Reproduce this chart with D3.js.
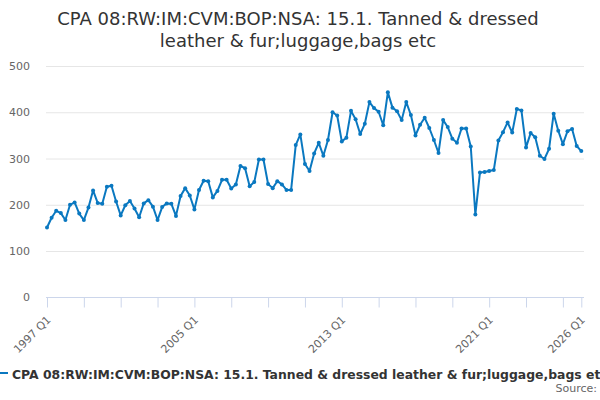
<!DOCTYPE html>
<html><head><meta charset="utf-8">
<script src="https://cdn.jsdelivr.net/npm/d3@7"></script>
<style>
body{margin:0;background:#fff;}
svg{display:block;font-family:"DejaVu Sans",sans-serif;}
</style></head>
<body><svg id="c" width="600" height="400"></svg>
<script>
const titleLines = ["CPA 08:RW:IM:CVM:BOP:NSA: 15.1. Tanned & dressed", "leather & fur;luggage,bags etc"];
const seriesName = "CPA 08:RW:IM:CVM:BOP:NSA: 15.1. Tanned & dressed leather & fur;luggage,bags etc";
const startYear = 1997;
const values = [
151,172,187,182,167,200,205,181,167,194,231,204,202,239,241,207,
177,199,208,192,173,203,210,196,167,195,203,202,176,219,236,220,
190,232,252,251,216,230,254,254,235,244,284,279,240,249,298,298,
245,236,251,244,232,232,329,352,288,273,311,334,306,340,400,393,
337,345,403,385,353,375,422,409,401,372,443,410,402,383,422,394,
350,373,388,366,340,312,383,368,343,334,365,365,326,179,270,271,
273,275,339,357,378,356,407,404,324,355,346,306,299,321,397,360,
331,359,364,327,316
];
const yTicks = [0,100,200,300,400,500];
const labelYears = [1997,2005,2013,2021,2026];
const tickStep = 8;

const categories = values.map((v,i)=> (startYear+Math.floor(i/4))+" Q"+(i%4+1));
const svg = d3.select("#c");
const x = d3.scalePoint().domain(categories).range([47,581.3]);
const y = d3.scaleLinear().domain([0,500]).range([297.3,66]);

// title
svg.append("text").attr("x",298).attr("y",25).attr("text-anchor","middle")
  .attr("font-size",18).attr("fill","#333")
  .selectAll("tspan").data(titleLines).join("tspan")
  .attr("x",298).attr("dy",(d,i)=>i?22:0).text(d=>d);

// grid
svg.append("g").selectAll("line").data(yTicks.filter(d=>d>0)).join("line")
  .attr("x1",46).attr("x2",584).attr("y1",d=>y(d)+0.5).attr("y2",d=>y(d)+0.5)
  .attr("stroke","#e6e6e6").attr("stroke-width",1);

// y labels
svg.append("g").selectAll("text").data(yTicks).join("text")
  .attr("x",30).attr("y",d=>y(d)+4).attr("text-anchor","end")
  .attr("font-size",11).attr("fill","#666").text(d=>d);

// x axis
const lastCat = categories[categories.length-1];
const tickCats = categories.filter((c,i)=> i%tickStep===0 || i===categories.length-1);
const xAxis = d3.axisBottom(x).tickValues(tickCats).tickSizeOuter(0).tickSizeInner(10)
  .tickFormat(c=> (c===lastCat || (c.endsWith("Q1") && (+c.slice(0,4)-startYear)%8===0)) && labelYears.includes(+c.slice(0,4)) ? c : "");
const gx = svg.append("g").attr("transform","translate(0,297.5)").call(xAxis);
gx.select(".domain").attr("d","M46,0H584").attr("stroke","#ccd6eb");
gx.selectAll(".tick line").attr("stroke","#ccd6eb");
gx.selectAll(".tick text").attr("font-size",11).attr("fill","#666")
  .attr("font-family","DejaVu Sans, sans-serif")
  .attr("text-anchor","end").attr("dy",0).attr("y",0)
  .attr("transform","translate(4,23) rotate(-45)");

// line
const line = d3.line().x((d,i)=>x(categories[i])).y(d=>y(d));
svg.append("path").datum(values).attr("d",line).attr("fill","none")
  .attr("stroke","#0a78c0").attr("stroke-width",2).attr("stroke-linejoin","round");
svg.append("g").selectAll("circle").data(values).join("circle")
  .attr("cx",(d,i)=>x(categories[i])).attr("cy",d=>y(d)).attr("r",2)
  .attr("fill","#0a78c0");

// legend
svg.append("line").attr("x1",-8).attr("x2",8).attr("y1",373).attr("y2",373)
  .attr("stroke","#0a78c0").attr("stroke-width",2);
svg.append("text").attr("x",12).attr("y",378.5).attr("font-size",12.4).attr("font-weight","bold")
  .attr("fill","#333").text(seriesName);
svg.append("text").attr("x",597).attr("y",392).attr("text-anchor","end")
  .attr("font-size",11).attr("fill","#666").text("Source:");
</script></body></html>
